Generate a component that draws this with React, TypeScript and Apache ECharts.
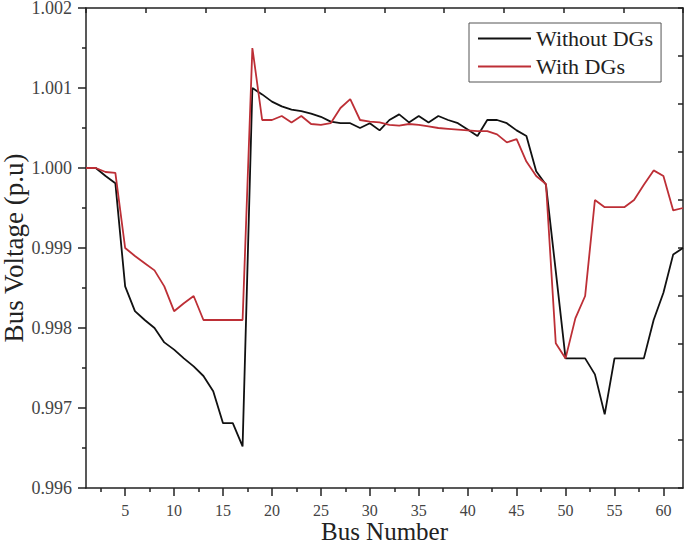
import React, { useEffect, useRef } from "react";
import * as echarts from "echarts";

const busNumbers = [
  1, 2, 3, 4, 5, 6, 7, 8, 9, 10, 11, 12, 13, 14, 15, 16, 17, 18, 19, 20, 21,
  22, 23, 24, 25, 26, 27, 28, 29, 30, 31, 32, 33, 34, 35, 36, 37, 38, 39, 40,
  41, 42, 43, 44, 45, 46, 47, 48, 49, 50, 51, 52, 53, 54, 55, 56, 57, 58, 59,
  60, 61, 62,
];

const withoutDGs = [
  1.0, 1.0, 0.9999, 0.99981, 0.99852, 0.99821, 0.9981, 0.998, 0.99782, 0.99773,
  0.99762, 0.99752, 0.9974, 0.99721, 0.99681, 0.99681, 0.99652, 1.001, 1.00092,
  1.00083, 1.00077, 1.00073, 1.00071, 1.00068, 1.00064, 1.00058, 1.00056,
  1.00056, 1.0005, 1.00056, 1.00047, 1.0006, 1.00067, 1.00057, 1.00065, 1.00057,
  1.00065, 1.0006, 1.00056, 1.00048, 1.0004, 1.0006, 1.0006, 1.00056, 1.00047,
  1.0004, 0.99996, 0.99979, 0.99871, 0.99762, 0.99762, 0.99762, 0.99742,
  0.99692, 0.99762, 0.99762, 0.99762, 0.99762, 0.9981, 0.99844, 0.99892, 0.999,
];

const withDGs = [
  1.0, 1.0, 0.99995, 0.99994, 0.999, 0.9989, 0.99881, 0.99872, 0.99852, 0.99821,
  0.99831, 0.9984, 0.9981, 0.9981, 0.9981, 0.9981, 0.9981, 1.0015, 1.0006,
  1.0006, 1.00065, 1.00057, 1.00065, 1.00055, 1.00054, 1.00056, 1.00075,
  1.00086, 1.0006, 1.00058, 1.00057, 1.00054, 1.00053, 1.00055, 1.00054,
  1.00052, 1.0005, 1.00049, 1.00048, 1.00047, 1.00046, 1.00046, 1.00042,
  1.00032, 1.00036, 1.00008, 0.9999, 0.9998, 0.99781, 0.99762, 0.99812, 0.9984,
  0.9996, 0.99951, 0.99951, 0.99951, 0.9996, 0.99979, 0.99997, 0.9999, 0.99947,
  0.9995,
];

const xMajorTicks = [5, 10, 15, 20, 25, 30, 35, 40, 45, 50, 55, 60];
const xMinorTicks = [2.5, 7.5, 12.5, 17.5, 22.5, 27.5, 32.5, 37.5, 42.5, 47.5, 52.5, 57.5];

const FONT = "'Liberation Serif', 'Times New Roman', serif";

export default function App() {
  const ref = useRef<HTMLDivElement>(null);
  useEffect(() => {
    if (!ref.current) return;
    const chart = echarts.init(ref.current, null, { renderer: "svg" });
    const axisLine = { show: true, onZero: false, lineStyle: { color: "#222", width: 1.5 } };
    chart.setOption({
      animation: false,
      backgroundColor: "#fff",
      grid: {
        left: 86,
        right: 2,
        top: 8,
        bottom: 56,
        containLabel: false,
        outerBoundsMode: "none",
      },
      legend: {
        orient: "vertical",
        left: 469,
        top: 23,
        padding: [3, 8, 3, 9],
        itemGap: 3,
        itemWidth: 53,
        itemHeight: 2,
        icon: "rect",
        borderColor: "#555",
        borderWidth: 1,
        textStyle: { fontFamily: FONT, fontSize: 22, color: "#222", lineHeight: 25 },
        data: ["Without DGs", "With DGs"],
      },
      xAxis: [
        {
          type: "value",
          min: 1,
          max: 62,
          position: "bottom",
          name: "Bus Number",
          nameLocation: "middle",
          nameGap: 31,
          nameMoveOverlap: false,
          nameTextStyle: { fontFamily: FONT, fontSize: 25, color: "#222", lineHeight: 25 },
          axisLine,
          splitLine: { show: false },
          axisTick: {
            show: true,
            length: 8,
            customValues: xMajorTicks,
            lineStyle: { color: "#222", width: 1.5 },
          },
          axisLabel: {
            customValues: xMajorTicks,
            margin: 14,
            fontFamily: FONT,
            fontSize: 16,
            lineHeight: 16,
            color: "#444",
          },
        },
        {
          type: "value",
          min: 1,
          max: 62,
          position: "bottom",
          axisLine: { show: false, onZero: false },
          splitLine: { show: false },
          axisTick: {
            show: true,
            length: 4,
            customValues: xMinorTicks,
            lineStyle: { color: "#222", width: 1.5 },
          },
          axisLabel: { show: false },
        },
        {
          type: "value",
          min: 0,
          max: 10,
          interval: 1,
          position: "top",
          axisLine,
          splitLine: { show: false },
          axisTick: { show: true, inside: true, length: 5, lineStyle: { color: "#222", width: 1.5 } },
          axisLabel: { show: false },
        },
      ],
      yAxis: [
        {
          type: "value",
          min: 0.996,
          max: 1.002,
          interval: 0.001,
          position: "left",
          name: "Bus Voltage (p.u)",
          nameLocation: "middle",
          nameGap: 60,
          nameMoveOverlap: false,
          nameTextStyle: { fontFamily: FONT, fontSize: 27, color: "#222", lineHeight: 24 },
          axisLine,
          splitLine: { show: false },
          axisTick: { show: true, length: 8, lineStyle: { color: "#222", width: 1.5 } },
          minorTick: { show: true, splitNumber: 2, length: 4, lineStyle: { color: "#222", width: 1.5 } },
          axisLabel: {
            margin: 14,
            fontFamily: FONT,
            fontSize: 18,
            lineHeight: 12,
            color: "#444",
            formatter: (v: number) => v.toFixed(3),
          },
        },
        {
          type: "value",
          min: 0,
          max: 10,
          interval: 1,
          position: "right",
          axisLine,
          splitLine: { show: false },
          axisTick: { show: true, inside: true, length: 5, lineStyle: { color: "#222", width: 1.5 } },
          axisLabel: { show: false },
        },
      ],
      series: [
        {
          name: "Without DGs",
          type: "line",
          xAxisIndex: 0,
          yAxisIndex: 0,
          symbol: "none",
          lineStyle: { color: "#111", width: 1.8 },
          itemStyle: { color: "#111" },
          data: busNumbers.map((b, i) => [b, withoutDGs[i]]),
        },
        {
          name: "With DGs",
          type: "line",
          xAxisIndex: 0,
          yAxisIndex: 0,
          symbol: "none",
          lineStyle: { color: "#bd2f36", width: 1.8 },
          itemStyle: { color: "#bd2f36" },
          data: busNumbers.map((b, i) => [b, withDGs[i]]),
        },
      ],
    });
    return () => chart.dispose();
  }, []);
  return (
    <div
      ref={ref}
      style={{ position: "fixed", left: 0, top: 0, width: 685, height: 544 }}
    />
  );
}
